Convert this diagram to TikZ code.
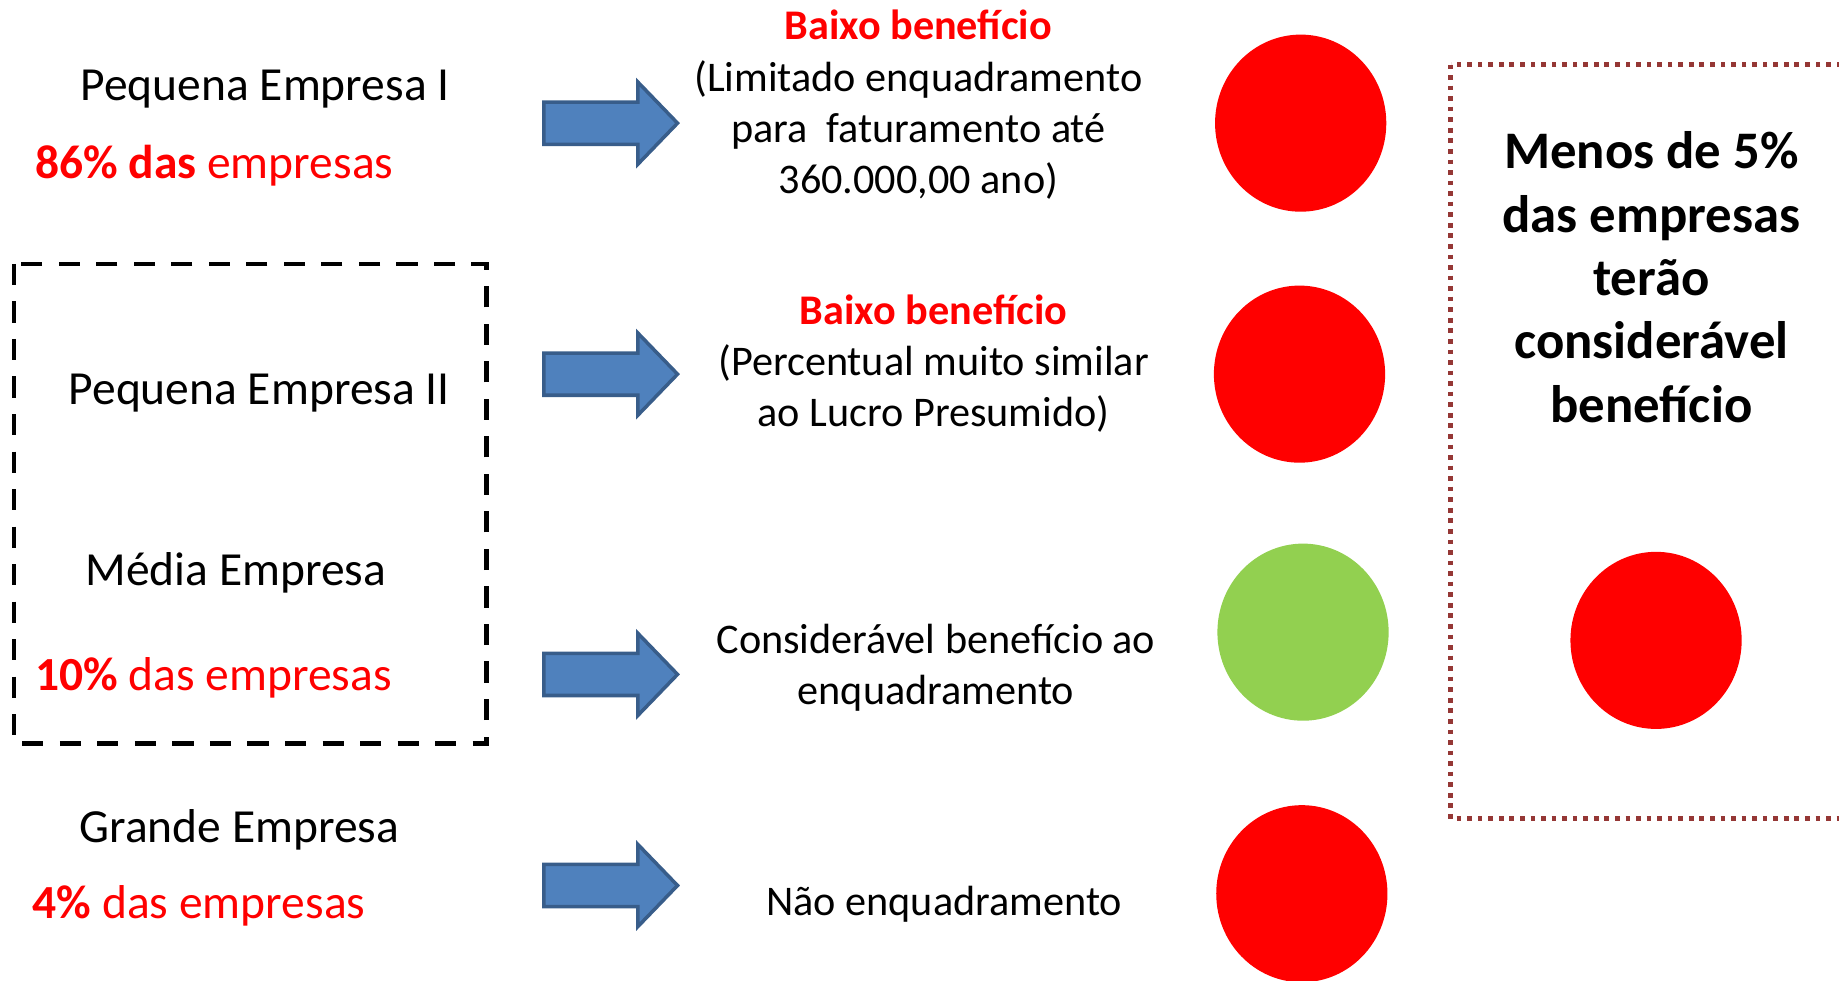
\documentclass[tikz,border=0pt]{standalone}
\usepackage{fontspec}
\setmainfont{Carlito}
\usetikzlibrary{shapes.geometric,shapes.arrows}

\definecolor{vermelho}{HTML}{FF0000}
\definecolor{verde}{HTML}{92D050}
\definecolor{azul}{HTML}{4F81BD}
\definecolor{azulborda}{HTML}{385D8A}
\definecolor{vinho}{HTML}{953735}

\begin{document}
\begin{tikzpicture}[%
    x=1pt, y=-1pt,              % pixel grid, y going down
    ]
% -------------------------------------------------
% A few styles
\tikzset{
  base/.style={inner sep=0pt, outer sep=0pt},
  empresa/.style={base, anchor=base, font=\fontsize{40.5}{48}\selectfont},
  pct/.style={base, anchor=base west, text=vermelho, font=\fontsize{40.5}{48}\selectfont},
  % multi-line: base is the baseline of the last line
  desc/.style={base, anchor=base, align=center, font=\fontsize{36}{43.7}\selectfont},
  seta/.style={single arrow, draw=azulborda, fill=azul, line width=3pt,
    minimum height=114pt, text height=33pt, text depth=0pt, inner sep=0pt,
    single arrow head extend=17pt, single arrow tip angle=92},
  bola/.style={ellipse, minimum width=146pt, minimum height=151pt, inner sep=0pt, fill=vermelho},
  grupo/.style={draw, line width=4pt, dash pattern=on 18pt off 14pt},
  destaque/.style={draw=vinho, line width=4pt, dash pattern=on 4pt off 5pt},
}
\useasboundingbox (0,0) rectangle (1568,836);
\clip (0,0) rectangle (1568,836);
% -------------------------------------------------
% Left column: company sizes
\node [empresa] (pe1) at (226,86) {Pequena Empresa I};
\node [pct] (p86) at (30,152) {\textbf{86\% das} empresas};
\node [empresa] (pe2) at (221,345) {Pequena Empresa II};
\node [empresa] (me) at (201,499) {Média Empresa};
\node [pct] (p10) at (30,589) {\textbf{10\%} das empresas};
\node [empresa] (ge) at (204,718) {Grande Empresa};
\node [pct] (p4) at (28,783) {\textbf{4\%} das empresas};

\draw [grupo] (12,225) rectangle (415,634);

% Block arrows
\node [seta] (s1) at (512,105) {};
\node [seta] (s2) at (512,319) {};
\node [seta] (s3) at (512,575) {};
\node [seta] (s4) at (512,755) {};

% Middle column: what each size gets
\node [desc] (d1) at (783,165) {\textcolor{vermelho}{\textbf{Baixo benefício}}\\
  (Limitado enquadramento\\ para\ \ faturamento até\\ 360.000,00 ano)};
\node [desc] (d2) at (796,364) {\textcolor{vermelho}{\textbf{Baixo benefício}}\\
  (Percentual muito similar\\ ao Lucro Presumido)};
\node [desc] (d3) at (798,601) {Considerável benefício ao\\ enquadramento};
\node [desc] (d4) at (805,781) {Não enquadramento};

% Traffic lights
\node [bola] (b1) at (1109,105) {};
\node [bola] (b2) at (1108,319) {};
\node [bola, fill=verde] (b3) at (1111,539) {};
\node [bola] (b4) at (1110,762) {};

% Right: summary
\draw [destaque] (1237,55) rectangle (1620,698);
\node [base, anchor=base, align=center, font=\fontsize{45}{54}\selectfont\bfseries]
  (resumo) at (1408,360) {Menos de 5\%\\ das empresas\\ terão\\ considerável\\ benefício};
\node [bola] (b5) at (1412,546) {};
% -------------------------------------------------
\end{tikzpicture}
\end{document}
